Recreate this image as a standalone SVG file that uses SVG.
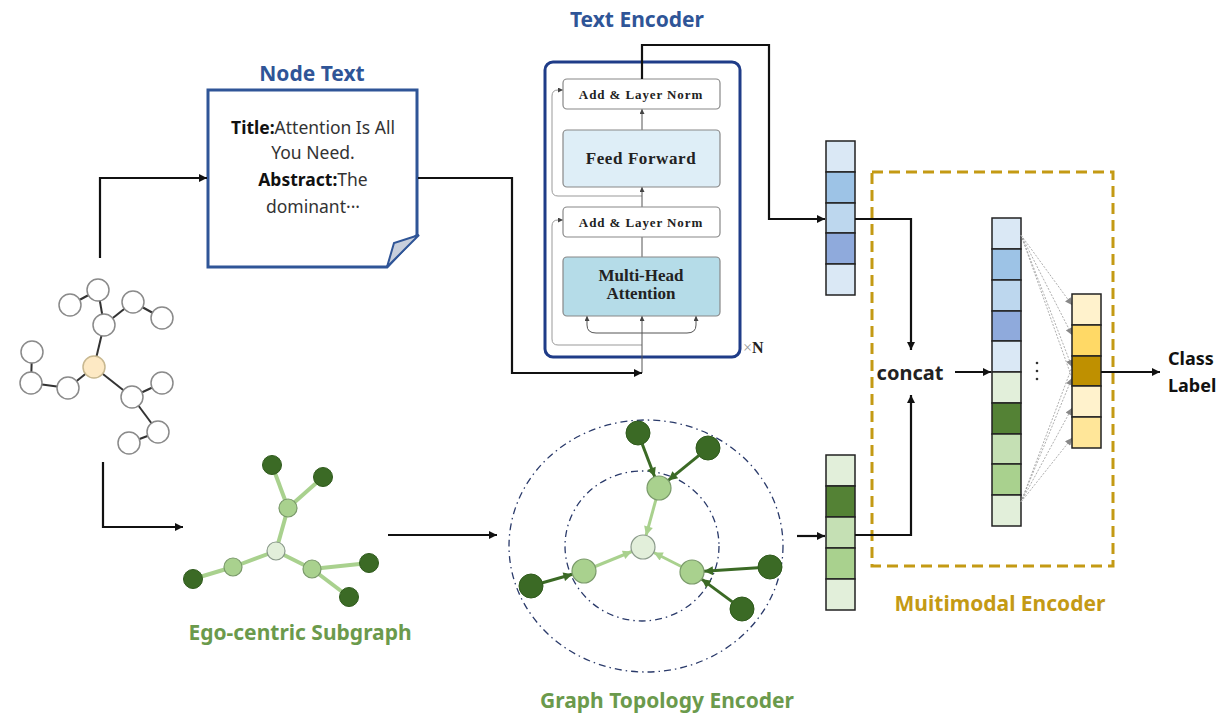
<svg xmlns="http://www.w3.org/2000/svg" width="1227" height="716" viewBox="0 0 1227 716">
<defs>
<marker id="ab" viewBox="0 0 10 10" refX="10" refY="5" markerWidth="9" markerHeight="8" markerUnits="userSpaceOnUse" orient="auto"><path d="M0,0 L10,5 L0,10 Z" fill="#111"/></marker>
<marker id="ag" viewBox="0 0 10 10" refX="10" refY="5" markerWidth="5" markerHeight="5" markerUnits="userSpaceOnUse" orient="auto"><path d="M0,0 L10,5 L0,10 Z" fill="#444"/></marker>
<marker id="ad" viewBox="0 0 10 10" refX="10" refY="5" markerWidth="10" markerHeight="9" markerUnits="userSpaceOnUse" orient="auto"><path d="M0,0 L10,5 L0,10 Z" fill="#3b6a25"/></marker>
<marker id="al" viewBox="0 0 10 10" refX="10" refY="5" markerWidth="10" markerHeight="9" markerUnits="userSpaceOnUse" orient="auto"><path d="M0,0 L10,5 L0,10 Z" fill="#a9d18e"/></marker>
<marker id="af" viewBox="0 0 10 10" refX="10" refY="5" markerWidth="8" markerHeight="7" markerUnits="userSpaceOnUse" orient="auto"><path d="M0,0 L10,5 L0,10 Z" fill="#888"/></marker>
</defs>
<style>
.conn{fill:none;stroke:#111;stroke-width:2.2}
.thin{fill:none;stroke:#555;stroke-width:1}
.res{fill:none;stroke:#999;stroke-width:1}
.gn{fill:#fff;stroke:#8a8a8a;stroke-width:1.5}
.ge{stroke:#333;stroke-width:2}
.dk{fill:#3b6a25;stroke:#2f5a1c;stroke-width:1}
.lt{fill:#a9d18e;stroke:#7a9a6a;stroke-width:1.2}
.pl{fill:#e2efda;stroke:#8a9a8a;stroke-width:1.2}
.le{stroke:#a9d18e;stroke-width:4}
.cell{stroke:#222;stroke-width:1.5}
.sans{font-family:"Noto Sans","Open Sans","Liberation Sans",sans-serif}
.serif{font-family:"Liberation Serif","DejaVu Serif",serif;font-weight:bold;fill:#222}
.ttl{font-family:"Noto Sans","Open Sans","Liberation Sans",sans-serif;font-weight:bold;font-size:21px;text-anchor:middle}
</style>

<!-- Left full graph -->
<g id="input-graph">
<line class="ge" x1="70" y1="305" x2="98" y2="290"/>
<line class="ge" x1="98" y1="290" x2="104" y2="325"/>
<line class="ge" x1="104" y1="325" x2="133" y2="302"/>
<line class="ge" x1="133" y1="302" x2="162" y2="318"/>
<line class="ge" x1="104" y1="325" x2="94" y2="367"/>
<line class="ge" x1="94" y1="367" x2="68" y2="388"/>
<line class="ge" x1="68" y1="388" x2="31" y2="383"/>
<line class="ge" x1="31" y1="383" x2="32" y2="352"/>
<line class="ge" x1="94" y1="367" x2="132" y2="397"/>
<line class="ge" x1="132" y1="397" x2="162" y2="383"/>
<line class="ge" x1="132" y1="397" x2="158" y2="432"/>
<line class="ge" x1="158" y1="432" x2="129" y2="443"/>
<circle class="gn" cx="70" cy="305" r="11"/>
<circle class="gn" cx="98" cy="290" r="11"/>
<circle class="gn" cx="133" cy="302" r="11"/>
<circle class="gn" cx="162" cy="318" r="11"/>
<circle class="gn" cx="104" cy="325" r="11"/>
<circle cx="94" cy="367" r="11" fill="#fde9c4" stroke="#c8b890" stroke-width="1.5"/>
<circle class="gn" cx="32" cy="352" r="11"/>
<circle class="gn" cx="31" cy="383" r="11"/>
<circle class="gn" cx="68" cy="388" r="11"/>
<circle class="gn" cx="132" cy="397" r="11"/>
<circle class="gn" cx="162" cy="383" r="11"/>
<circle class="gn" cx="158" cy="432" r="11"/>
<circle class="gn" cx="129" cy="443" r="11"/>
</g>

<!-- Node Text -->
<g id="node-text">
<text class="ttl" x="312" y="81" fill="#2f5597">Node Text</text>
<path d="M208,90 H417 V235 L387,267 H208 Z" fill="#fff" stroke="#2f5597" stroke-width="3"/>
<path d="M387,267 L394,243 L419,235 Z" fill="#c8cfdc" stroke="#2f5597" stroke-width="2"/>
<g class="sans" font-size="17.5" fill="#333" text-anchor="middle">
<text x="313" y="134"><tspan font-weight="bold" fill="#111">Title:</tspan>Attention Is All</text>
<text x="313" y="159">You Need.</text>
<text x="313" y="186"><tspan font-weight="bold" fill="#111">Abstract:</tspan>The</text>
<text x="313" y="213">dominant···</text>
</g>
</g>

<!-- Text Encoder -->
<g id="text-encoder">
<text class="ttl" x="637" y="27" fill="#2f5597">Text Encoder</text>
<rect x="545" y="62" width="195" height="295" rx="8" fill="#fff" stroke="#1f3c88" stroke-width="3"/>
<path class="res" d="M642,345 H558 Q552,345 552,339 V226 Q552,220 558,220 H563" marker-end="url(#ag)"/>
<path class="res" d="M642,196 H558 Q552,196 552,190 V96 Q552,90 558,90 H563" marker-end="url(#ag)"/>
<path class="thin" d="M642,373 V316" marker-end="url(#ag)"/>
<path class="thin" d="M642,333 H596 Q587,333 587,325 V316" marker-end="url(#ag)"/>
<path class="thin" d="M642,333 H687 Q696,333 696,325 V316" marker-end="url(#ag)"/>
<path class="thin" d="M642,257 V237"/>
<path class="thin" d="M642,207 V187" marker-end="url(#ag)"/>
<path class="thin" d="M642,130 V109" marker-end="url(#ag)"/>
<rect x="563" y="79" width="157" height="30" rx="4" fill="#fff" stroke="#888" stroke-width="1.2"/>
<text class="serif" x="641" y="99" font-size="13" letter-spacing="0.9" text-anchor="middle">Add &amp; Layer Norm</text>
<rect x="563" y="130" width="157" height="57" rx="4" fill="#deeef7" stroke="#888" stroke-width="1.2"/>
<text class="serif" x="641" y="164" font-size="17" letter-spacing="0.6" text-anchor="middle">Feed Forward</text>
<rect x="563" y="207" width="157" height="30" rx="4" fill="#fff" stroke="#888" stroke-width="1.2"/>
<text class="serif" x="641" y="227" font-size="13" letter-spacing="0.9" text-anchor="middle">Add &amp; Layer Norm</text>
<rect x="563" y="257" width="157" height="59" rx="4" fill="#b5dce8" stroke="#888" stroke-width="1.2"/>
<text class="serif" x="641" y="281" font-size="17" text-anchor="middle">Multi-Head</text>
<text class="serif" x="641" y="299" font-size="17" text-anchor="middle">Attention</text>
<text x="743" y="353" font-family="Liberation Serif, serif" font-size="16"><tspan fill="#999">×</tspan><tspan font-weight="bold" fill="#222">N</tspan></text>
</g>

<!-- Ego-centric subgraph -->
<g id="ego-subgraph">
<line class="le" x1="272" y1="465" x2="288" y2="508"/>
<line class="le" x1="323" y1="477" x2="288" y2="508"/>
<line class="le" x1="288" y1="508" x2="276" y2="551"/>
<line class="le" x1="276" y1="551" x2="233" y2="567"/>
<line class="le" x1="233" y1="567" x2="193" y2="579"/>
<line class="le" x1="276" y1="551" x2="312" y2="569"/>
<line class="le" x1="312" y1="569" x2="369" y2="563"/>
<line class="le" x1="312" y1="569" x2="349" y2="597"/>
<circle class="dk" cx="272" cy="465" r="9.5"/>
<circle class="dk" cx="323" cy="477" r="9.5"/>
<circle class="lt" cx="288" cy="508" r="9"/>
<circle class="pl" cx="276" cy="551" r="9"/>
<circle class="lt" cx="233" cy="567" r="9"/>
<circle class="dk" cx="193" cy="579" r="9.5"/>
<circle class="lt" cx="312" cy="569" r="9"/>
<circle class="dk" cx="369" cy="563" r="9.5"/>
<circle class="dk" cx="349" cy="597" r="9.5"/>
<text class="ttl" x="300" y="640" fill="#6b9a4c">Ego-centric Subgraph</text>
</g>

<!-- Graph Topology Encoder -->
<g id="graph-topology-encoder">
<ellipse cx="646" cy="546" rx="137" ry="126" fill="none" stroke="#2a3a6a" stroke-width="1.3" stroke-dasharray="7 4 1.5 4"/>
<ellipse cx="642" cy="546" rx="77" ry="75" fill="none" stroke="#2a3a6a" stroke-width="1.3" stroke-dasharray="7 4 1.5 4"/>
<line x1="642.3" y1="444.2" x2="654.7" y2="476.8" stroke="#3b6a25" stroke-width="3" marker-end="url(#ad)"/>
<line x1="698.7" y1="455.6" x2="668.3" y2="480.4" stroke="#3b6a25" stroke-width="3" marker-end="url(#ad)"/>
<line x1="542.5" y1="582.7" x2="572.5" y2="574.3" stroke="#3b6a25" stroke-width="3" marker-end="url(#ad)"/>
<line x1="758" y1="567.8" x2="704" y2="571.2" stroke="#3b6a25" stroke-width="3" marker-end="url(#ad)"/>
<line x1="732.4" y1="601.9" x2="701.6" y2="579.1" stroke="#3b6a25" stroke-width="3" marker-end="url(#ad)"/>
<line x1="655.9" y1="499.6" x2="646.1" y2="535.4" stroke="#a9d18e" stroke-width="3" marker-end="url(#al)"/>
<line x1="595.1" y1="566.5" x2="631.9" y2="551.5" stroke="#a9d18e" stroke-width="3" marker-end="url(#al)"/>
<line x1="681.3" y1="566.5" x2="653.7" y2="552.5" stroke="#a9d18e" stroke-width="3" marker-end="url(#al)"/>
<circle class="dk" cx="638" cy="433" r="12"/>
<circle class="dk" cx="708" cy="448" r="12"/>
<circle class="lt" cx="659" cy="488" r="12"/>
<circle class="pl" cx="643" cy="547" r="12"/>
<circle class="lt" cx="584" cy="571" r="12"/>
<circle class="dk" cx="531" cy="586" r="12"/>
<circle class="lt" cx="692" cy="572" r="12"/>
<circle class="dk" cx="770" cy="567" r="12"/>
<circle class="dk" cx="742" cy="609" r="12"/>
<text class="ttl" x="667" y="708" fill="#6b9a4c">Graph Topology Encoder</text>
</g>

<!-- Text embedding vector -->
<g id="text-vector">
<rect class="cell" x="826" y="141" width="29" height="31" fill="#dae8f5"/>
<rect class="cell" x="826" y="172" width="29" height="31" fill="#9dc3e6"/>
<rect class="cell" x="826" y="203" width="29" height="30" fill="#bdd7ee"/>
<rect class="cell" x="826" y="233" width="29" height="31" fill="#8faadc"/>
<rect class="cell" x="826" y="264" width="29" height="31" fill="#dae8f5"/>
</g>

<!-- Graph embedding vector -->
<g id="graph-vector">
<rect class="cell" x="826" y="455" width="29" height="31" fill="#e2efda"/>
<rect class="cell" x="826" y="486" width="29" height="31" fill="#548235"/>
<rect class="cell" x="826" y="517" width="29" height="31" fill="#c5e0b4"/>
<rect class="cell" x="826" y="548" width="29" height="31" fill="#a9d18e"/>
<rect class="cell" x="826" y="579" width="29" height="31" fill="#e2efda"/>
</g>

<!-- Multimodal Encoder -->
<g id="multimodal-encoder">
<rect x="872" y="172" width="241" height="394" fill="none" stroke="#c49a14" stroke-width="3" stroke-dasharray="11 6"/>
<text class="sans" x="910" y="380" font-size="20" font-weight="bold" fill="#222" text-anchor="middle">concat</text>
<g id="fused-vector">
<rect class="cell" x="992" y="218" width="29" height="31" fill="#dae8f5"/>
<rect class="cell" x="992" y="249" width="29" height="31" fill="#9dc3e6"/>
<rect class="cell" x="992" y="280" width="29" height="31" fill="#bdd7ee"/>
<rect class="cell" x="992" y="311" width="29" height="30" fill="#8faadc"/>
<rect class="cell" x="992" y="341" width="29" height="31" fill="#dae8f5"/>
<rect class="cell" x="992" y="372" width="29" height="31" fill="#e2efda"/>
<rect class="cell" x="992" y="403" width="29" height="31" fill="#548235"/>
<rect class="cell" x="992" y="434" width="29" height="30" fill="#c5e0b4"/>
<rect class="cell" x="992" y="464" width="29" height="31" fill="#a9d18e"/>
<rect class="cell" x="992" y="495" width="29" height="31" fill="#e2efda"/>
</g>
<g fill="#333">
<circle cx="1037" cy="363" r="1.3"/><circle cx="1037" cy="371" r="1.3"/><circle cx="1037" cy="379" r="1.3"/>
</g>
<g stroke="#999" stroke-width="0.8" stroke-dasharray="2 1.5" fill="none">
<line x1="1021" y1="235" x2="1072" y2="305" marker-end="url(#af)"/>
<line x1="1021" y1="235" x2="1072" y2="335" marker-end="url(#af)"/>
<line x1="1021" y1="235" x2="1072" y2="367" marker-end="url(#af)"/>
<line x1="1021" y1="235" x2="1072" y2="378"/>
<line x1="1021" y1="502" x2="1072" y2="367"/>
<line x1="1021" y1="502" x2="1072" y2="378" marker-end="url(#af)"/>
<line x1="1021" y1="502" x2="1072" y2="408" marker-end="url(#af)"/>
<line x1="1021" y1="502" x2="1072" y2="438" marker-end="url(#af)"/>
</g>
<g id="output-vector">
<rect class="cell" x="1072" y="294" width="29" height="31" fill="#fff2cc"/>
<rect class="cell" x="1072" y="325" width="29" height="31" fill="#ffd966"/>
<rect class="cell" x="1072" y="356" width="29" height="30" fill="#bf9000"/>
<rect class="cell" x="1072" y="386" width="29" height="31" fill="#fff2cc"/>
<rect class="cell" x="1072" y="417" width="29" height="31" fill="#ffe699"/>
</g>
<text class="ttl" x="1000" y="611" fill="#c49a14">Muitimodal Encoder</text>
</g>

<g id="class-label">
<text class="sans" x="1168" y="365" font-size="18" font-weight="bold" fill="#111">Class</text>
<text class="sans" x="1168" y="392" font-size="18" font-weight="bold" fill="#111">Label</text>
</g>

<!-- Connectors -->
<g id="connectors">
<path class="conn" d="M100,258 V178 H207" marker-end="url(#ab)"/>
<path class="conn" d="M103,462 V527 H183" marker-end="url(#ab)"/>
<path class="conn" d="M418,178 H512 V373 H642" marker-end="url(#ab)"/>
<path class="conn" d="M642,79 V45 H769 V219 H825" marker-end="url(#ab)"/>
<path class="conn" d="M388,535 H497" marker-end="url(#ab)"/>
<path class="conn" d="M797,536 H825" marker-end="url(#ab)"/>
<path class="conn" d="M855,219 H911 V350" marker-end="url(#ab)"/>
<path class="conn" d="M855,535 H911 V395" marker-end="url(#ab)"/>
<path class="conn" d="M955,372 H991" marker-end="url(#ab)"/>
<path class="conn" d="M1101,372 H1160" marker-end="url(#ab)"/>
</g>
</svg>
